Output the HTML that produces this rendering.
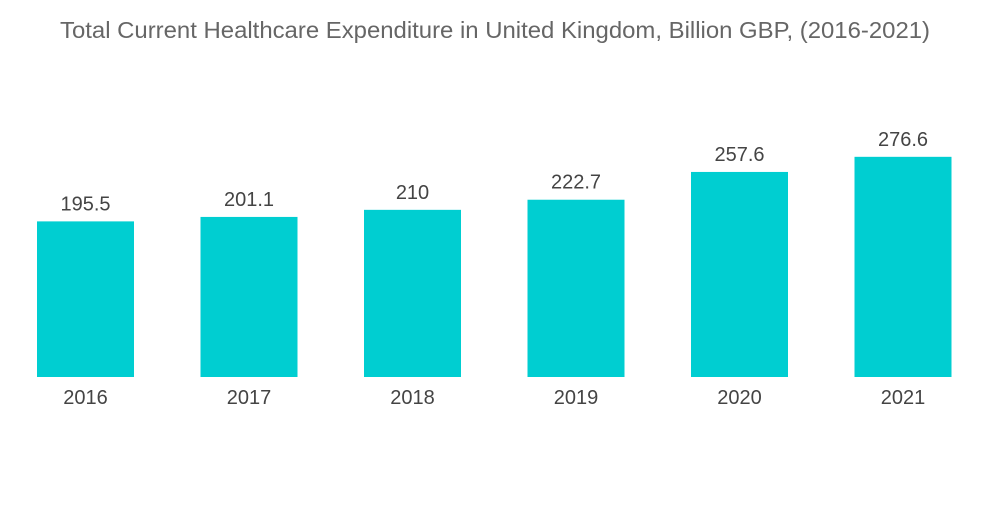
<!DOCTYPE html>
<html><head><meta charset="utf-8"><style>
body{margin:0;background:#fff;width:1000px;height:504px;overflow:hidden;font-family:"Liberation Sans",sans-serif}
</style></head><body>
<svg width="1000" height="504">
<text x="495" y="38" text-anchor="middle" font-size="23" textLength="870" lengthAdjust="spacingAndGlyphs" fill="#666">Total Current Healthcare Expenditure in United Kingdom, Billion GBP, (2016-2021)</text>
<g id="bars"></g>
</svg>
<script>
const categories=["2016","2017","2018","2019","2020","2021"];
const values=[195.5,201.1,210,222.7,257.6,276.6];
const valueLabels=["195.5","201.1","210","222.7","257.6","276.6"];
const base=377,scale=0.796,x0=37,step=163.5,bw=97;
function xPos(i){return x0+i*step;}
function yPos(v){return base-v*scale;}
const g=document.getElementById('bars');const ns="http://www.w3.org/2000/svg";
categories.forEach((c,i)=>{
const r=document.createElementNS(ns,'rect');
r.setAttribute('x',xPos(i));r.setAttribute('y',yPos(values[i]));r.setAttribute('width',bw);r.setAttribute('height',base-yPos(values[i]));r.setAttribute('fill','#00ced1');


g.appendChild(r);
const t=document.createElementNS(ns,'text');
t.setAttribute('x',xPos(i)+bw/2);t.setAttribute('y',yPos(values[i])-11);t.setAttribute('text-anchor','middle');t.setAttribute('font-size','20');t.setAttribute('fill','#444');t.textContent=valueLabels[i];


g.appendChild(t);
const l=document.createElementNS(ns,'text');
l.setAttribute('x',xPos(i)+bw/2);l.setAttribute('y',404);l.setAttribute('text-anchor','middle');l.setAttribute('font-size','20');l.setAttribute('fill','#444');l.textContent=c;


g.appendChild(l);
});
</script>
</body></html>
